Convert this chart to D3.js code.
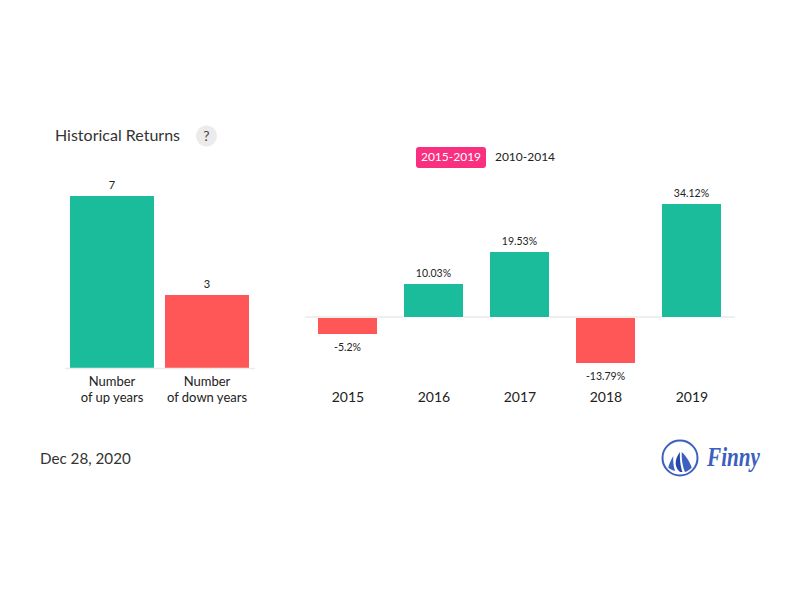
<!DOCTYPE html>
<html>
<head>
<meta charset="utf-8" />
<title>Historical Returns</title>
<script src="https://d3js.org/d3.v7.min.js"></script>
<style>
    body { margin:0; padding:0; background:#fff; }
    svg { display:block; }
    text { font-family:'Lato', sans-serif; fill:#222; }
    rect.count, rect.ret { shape-rendering:crispEdges; }
</style>
</head>
<body>
<svg id="chart" width="800" height="600"></svg>
<script>
var countLabels = [["Number","of up years"],["Number","of down years"]];
var countValues = [7,3];
var years = ["2015","2016","2017","2018","2019"];
var returns = [-5.2,10.03,19.53,-13.79,34.12];
var returnLabels = ["-5.2%","10.03%","19.53%","-13.79%","34.12%"];
var periods = ["2015-2019","2010-2014"];

var green = "#1abc9c", red = "#ff5757", blue = "#3d5fc0";
var svg = d3.select("#chart");

// left chart, up and down year counts
var xCount = d3.scaleBand().domain(d3.range(countValues.length)).range([64.5,254.5]).paddingInner(0.116).paddingOuter(0.058);
var yCount = d3.scaleLinear().domain([0,7]).range([369,196]);

svg.selectAll(".count").data(countValues).enter().append("rect")
    .attr("class","count")
    .attr("x",function(d,i){ return xCount(i); })
    .attr("y",function(d){ return yCount(d); })
    .attr("width",xCount.bandwidth())
    .attr("height",function(d){ return yCount(0)-yCount(d); })
    .attr("fill",function(d,i){ return i==0 ? green : red; });

svg.append("line").attr("x1",65).attr("x2",255).attr("y1",368.5).attr("y2",368.5).attr("stroke","#eaeaea").attr("stroke-width",1.5);

svg.selectAll(".countValue").data(countValues).enter().append("text")
    .attr("class","countValue")
    .attr("x",function(d,i){ return xCount(i)+xCount.bandwidth()/2; })
    .attr("y",function(d){ return yCount(d)-7; })
    .attr("text-anchor","middle").style("font-size","11px")
    .text(function(d){ return d; });

countLabels.forEach(function(lines,i){
    lines.forEach(function(line,j){
        svg.append("text")
            .attr("x",xCount(i)+xCount.bandwidth()/2)
            .attr("y",386+j*16)
            .attr("text-anchor","middle").style("font-size","13px")
            .text(line);
    });
});

// right chart, yearly returns
var xYear = d3.scaleBand().domain(years).range([304.5,734.5]).paddingInner(0.314).paddingOuter(0.157);
var yReturn = d3.scaleLinear().domain([0,34.12]).range([317,204]);

svg.append("line").attr("x1",305).attr("x2",735).attr("y1",317).attr("y2",317).attr("stroke","#eaeaea").attr("stroke-width",1.5);

// white outline breaks the axis line beside each bar, negatives start 1px under it
svg.selectAll(".ret").data(returns).enter().append("rect")
    .attr("class","ret")
    .attr("x",function(d,i){ return xYear(years[i]); })
    .attr("y",function(d){ return d>0 ? yReturn(d) : yReturn(0)+1; })
    .attr("width",xYear.bandwidth())
    .attr("height",function(d){ return Math.abs(yReturn(d)-yReturn(0))-(d>0 ? 0 : 1); })
    .attr("fill",function(d){ return d>0 ? green : red; })
    .attr("stroke","#fff").attr("stroke-width",1).attr("paint-order","stroke");

svg.selectAll(".retValue").data(returns).enter().append("text")
    .attr("class","retValue")
    .attr("x",function(d,i){ return xYear(years[i])+xYear.bandwidth()/2; })
    .attr("y",function(d){ return d>0 ? yReturn(d)-7 : yReturn(d)+17; })
    .attr("text-anchor","middle").style("font-size","10.5px")
    .text(function(d,i){ return returnLabels[i]; });

svg.selectAll(".year").data(years).enter().append("text")
    .attr("class","year")
    .attr("x",function(d){ return xYear(d)+xYear.bandwidth()/2+0.5; })
    .attr("y",402)
    .attr("text-anchor","middle").style("font-size","14px")
    .text(function(d){ return d; });

// title and help badge
svg.append("text").attr("x",55).attr("y",141).style("font-size","16px").style("fill","#333").text("Historical Returns");
svg.append("circle").attr("cx",206.5).attr("cy",136).attr("r",10.5).attr("fill","#ebebeb");
svg.append("text").attr("x",206.5).attr("y",141).attr("text-anchor","middle").style("font-size","14px").style("fill","#444").text("?");

// period toggle
svg.append("rect").attr("x",416).attr("y",147).attr("width",70).attr("height",21).attr("rx",3).attr("fill","#f8307f");
svg.append("text").attr("x",451).attr("y",161).attr("text-anchor","middle").style("font-size","12px").style("fill","#fff").text(periods[0]);
svg.append("text").attr("x",525).attr("y",161).attr("text-anchor","middle").style("font-size","12px").text(periods[1]);

// date
svg.append("text").attr("x",40).attr("y",464).style("font-size","15.2px").style("fill","#333").text("Dec 28, 2020");

// logo
var logo = svg.append("g").attr("transform","translate(680,458)");
logo.append("circle").attr("r",17.5).attr("fill","none").attr("stroke",blue).attr("stroke-width",2);
logo.append("path").attr("d","M-6.7,-2 C-9,2 -11,6 -11.7,9.7 C-10,11 -7,12.5 -5,13 C-6.5,8 -7.2,3 -6.7,-2 Z").attr("fill",blue);
logo.append("path").attr("d","M0,-6 C-3,-2 -4.6,2 -4.3,6 C-4,9 -2.5,12 0,14 L2.5,14 C0.5,9 -0.5,0 0,-6 Z").attr("fill","#2448a8");
logo.append("path").attr("d","M1.7,-6 C6,-2 10,4 11.7,9.7 C9.5,12 7,13.5 5,14 C2.5,9 1.5,0 1.7,-6 Z").attr("fill",blue);

svg.append("text").attr("x",707).attr("y",466)
    .attr("textLength",53).attr("lengthAdjust","spacingAndGlyphs")
    .style("font-family","'Liberation Serif', serif").style("font-style","italic").style("font-weight","bold")
    .style("font-size","27px").style("fill",blue).text("Finny");
</script>
</body>
</html>
